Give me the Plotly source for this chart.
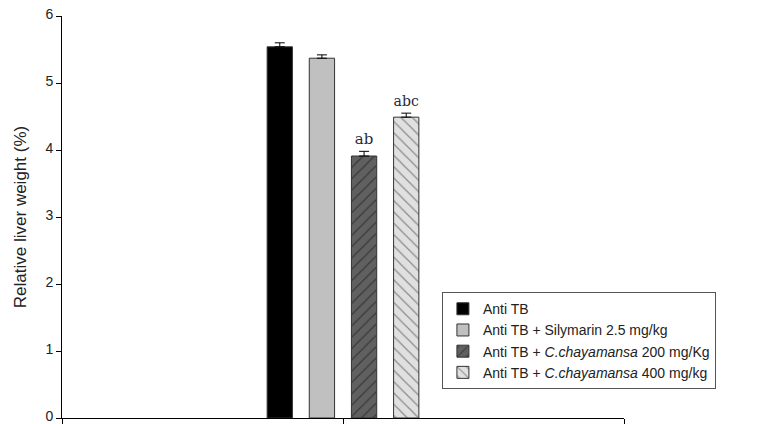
import plotly.graph_objects as go

groups = ["Anti TB",
          "Anti TB + Silymarin 2.5 mg/kg",
          "Anti TB + <i>C.chayamansa</i> 200 mg/Kg",
          "Anti TB + <i>C.chayamansa</i> 400 mg/kg"]
values = [5.54, 5.37, 3.91, 4.49]
errors = [0.06, 0.05, 0.07, 0.06]
labels = ["", "", "ab", "abc"]
category = [0]
y_ticks = [0, 1, 2, 3, 4, 5, 6]

fills = ["#000000", "#c0c0c0", "#606060", "#e0e0e0"]
shapes = ["", "", "/", "\\"]
fgs = ["#000000", "#000000", "#111111", "#333333"]

fig = go.Figure()
for i, name in enumerate(groups):
    fig.add_trace(go.Bar(
        x=category, y=[values[i]], name=name, offsetgroup=str(i),
        marker=dict(color=fills[i], line=dict(color="#333333", width=1),
                    pattern=dict(shape=shapes[i], fgcolor=fgs[i], bgcolor=fills[i],
                                 size=8, solidity=0.15)),
        error_y=dict(type="data", symmetric=False, array=[errors[i]], arrayminus=[0],
                     color="#000000", thickness=1, width=5),
        cliponaxis=False,
    ))

# significance letters, placed just above each error bar
for i, name in enumerate(groups):
    if labels[i]:
        fig.add_trace(go.Bar(
            x=category, y=[0.01], base=[values[i] + errors[i]], offsetgroup=str(i),
            marker=dict(color="rgba(0,0,0,0)", line=dict(width=0)),
            text=[labels[i]], textposition="outside",
            textfont=dict(family="DejaVu Serif, serif", size=15, color="#2a2a3a"),
            cliponaxis=False, showlegend=False, hoverinfo="skip",
        ))

fig.update_layout(
    width=760, height=424,
    margin=dict(l=62, r=136, t=16, b=6),
    paper_bgcolor="white", plot_bgcolor="white",
    barmode="group", bargap=0.4, bargroupgap=0.4,
    font=dict(family="Arial, Liberation Sans, sans-serif", color="#222222"),
    xaxis=dict(range=[-1, 1], tickvals=[-1, 0, 1], ticktext=["", "", ""], ticks="outside",
               ticklen=6, tickcolor="#000", showline=True, linecolor="#000",
               linewidth=1, showgrid=False, zeroline=False, fixedrange=True,
               automargin=False),
    yaxis=dict(range=[0, 6], tickvals=y_ticks, ticks="outside",
               ticklen=5, tickcolor="#000", showline=True, linecolor="#000",
               linewidth=1, showgrid=False, zeroline=False, automargin=False,
               ticklabeloverflow="allow", ticklabelshift=-2,
               tickfont=dict(size=14, color="#222222"),
               title=dict(text="Relative liver weight (%)", font=dict(size=17, color="#222222"),
                          standoff=14)),
    legend=dict(x=0.676, y=0.313, xanchor="left", yanchor="top",
                bgcolor="white", bordercolor="#555555", borderwidth=1,
                font=dict(size=14, color="#222222"), tracegroupgap=0,
                itemwidth=30),
    showlegend=True,
)

fig.write_html("out.html", config={"displayModeBar": False},
               post_script="document.body.style.margin='0';")
